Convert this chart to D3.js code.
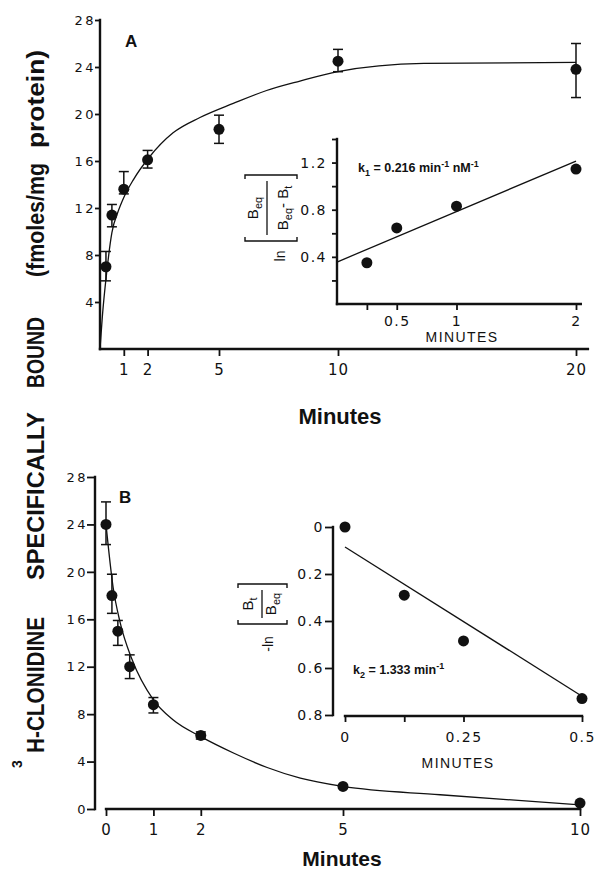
<!DOCTYPE html>
<html><head><meta charset="utf-8">
<script src="https://cdn.jsdelivr.net/npm/d3@7"></script>
<style>
body{margin:0;background:#fff}
svg{display:block}
</style></head><body>
<svg id="chart" width="598" height="874"></svg>
<script>
// A: association time course (fmoles/mg protein)
const timeA  = [0.25, 0.5, 1, 2, 5, 10, 20];
const boundA = [7.0, 11.4, 13.6, 16.1, 18.7, 24.5, 23.8];
const hiA    = [8.3, 12.3, 15.1, 16.9, 19.9, 25.5, 26.0];
const loA    = [5.8, 10.4, 13.2, 15.4, 17.5, 23.6, 21.4];
const fitTA  = [0, 0.1, 0.28, 0.5, 0.76, 1, 1.4, 2.06, 3.07, 4.2, 5.6, 7, 8.4, 10, 13.6, 20];
const fitYA  = [0, 2.8, 6.5, 9.9, 11.7, 12.9, 14.4, 16.3, 18.4, 19.7, 20.9, 22.0, 22.8, 23.6, 24.3, 24.4];
// A inset: ln(Beq/(Beq-Bt)) vs minutes
const timeA2 = [0.25, 0.5, 1, 2];
const lnA2   = [0.35, 0.645, 0.83, 1.145];
const lineTA2 = [0, 2];
const lineYA2 = [0.356, 1.213];

// B: dissociation time course
const timeB  = [0, 0.125, 0.25, 0.5, 1, 2, 5, 10];
const boundB = [24.0, 18.0, 15.0, 12.0, 8.8, 6.2, 1.9, 0.5];
const hiB    = [25.9, 19.8, 15.9, 13.0, 9.4, 6.5, 1.9, 0.5];
const loB    = [22.3, 16.5, 13.8, 11.0, 8.1, 5.9, 1.9, 0.5];
const fitTB  = [0, 0.15, 0.3, 0.55, 1, 1.42, 2, 2.7, 3.4, 4.1, 5, 7.05, 10];
const fitYB  = [24.0, 18.7, 15.7, 12.6, 9.2, 7.5, 6.1, 4.7, 3.5, 2.6, 1.9, 1.2, 0.35];
// B inset: -ln(Bt/Beq) vs minutes
const timeB2 = [0, 0.125, 0.25, 0.5];
const lnB2   = [0.0, 0.29, 0.485, 0.73];
const lineTB2 = [0, 0.5];
const lineYB2 = [0.085, 0.72];

// ticks
const ticksYA  = [4, 8, 12, 16, 20, 24, 28];
const ticksXA  = [1, 2, 5, 10, 20];
const ticksYA2 = [0.2, 0.4, 0.6, 0.8, 1.0, 1.2, 1.4];
const labelsYA2 = [0.4, 0.8, 1.2];
const ticksXA2 = [0.25, 0.5, 1, 2];
const labelsXA2 = [0.5, 1, 2];
const ticksYB  = [0, 4, 8, 12, 16, 20, 24, 28];
const ticksXB  = [0, 1, 2, 5, 10];
const ticksYB2 = [0, 0.2, 0.4, 0.6, 0.8];
const ticksXB2 = [0, 0.125, 0.25, 0.5];
const labelsXB2 = [0, 0.25, 0.5];

const ink = '#111';
const svg = d3.select('#chart');

const xA  = d3.scaleLinear().domain([0, 20]).range([100, 576]);
const yA  = d3.scaleLinear().domain([0, 28]).range([349, 20]);
const xA2 = d3.scaleLinear().domain([0, 2]).range([337, 576]);
const yA2 = d3.scaleLinear().domain([0, 1.4]).range([304, 139]);
const xB  = d3.scaleLinear().domain([0, 10]).range([106, 580]);
const yB  = d3.scaleLinear().domain([0, 28]).range([809, 477]);
const xB2 = d3.scaleLinear().domain([0, 0.5]).range([345, 582]);
const yB2 = d3.scaleLinear().domain([0, 0.8]).range([527, 715]);

function axis(gen, tx, ty, fs, ls) {
  const g = svg.append('g').attr('transform', `translate(${tx},${ty})`).call(gen);
  g.select('.domain').remove();
  g.selectAll('.tick line').attr('stroke', ink).attr('stroke-width', 1.8);
  g.selectAll('.tick text').attr('fill', ink).attr('font-family', 'DejaVu Sans')
    .attr('font-size', fs).attr('letter-spacing', ls);
  return g;
}
function rule(x1, y1, x2, y2, w) {
  svg.append('line').attr('x1', x1).attr('y1', y1).attr('x2', x2).attr('y2', y2)
    .attr('stroke', ink).attr('stroke-width', w || 2.4).attr('stroke-linecap', 'square');
}
const fmtSome = (keep, f) => d => keep.includes(d) ? f(d) : '';
const trim = d => String(d);

// ---- panel A ----
axis(d3.axisLeft(yA).tickValues(ticksYA).tickSize(5).tickPadding(-1).tickSizeOuter(0), xA(0), 0, 13, 2.5);
rule(xA(0), yA(0), xA(0), yA(28));
axis(d3.axisBottom(xA).tickValues(ticksXA).tickSize(7).tickPadding(8).tickSizeOuter(0), 0, yA(0), 15, 1);
rule(xA(0), yA(0), xA(20.5), yA(0));

function errorBars(xs, ys, ts, vs, hi, lo) {
  const g = svg.append('g').attr('stroke', ink).attr('stroke-width', 1.5);
  ts.forEach((t, i) => {
    if (hi[i] === lo[i]) return;
    const cx = xs(t);
    g.append('line').attr('x1', cx).attr('x2', cx).attr('y1', ys(hi[i])).attr('y2', ys(lo[i]));
    [hi[i], lo[i]].forEach(v => g.append('line').attr('x1', cx - 5).attr('x2', cx + 5)
      .attr('y1', ys(v)).attr('y2', ys(v)));
  });
}
function dots(xs, ys, ts, vs, r) {
  svg.append('g').selectAll('circle').data(ts).join('circle')
    .attr('cx', d => xs(d)).attr('cy', (d, i) => ys(vs[i])).attr('r', r).attr('fill', ink);
}
function curve(xs, ys, ts, vs, w, c) {
  svg.append('path').datum(ts.map((t, i) => [t, vs[i]]))
    .attr('d', d3.line().x(d => xs(d[0])).y(d => ys(d[1])).curve(c || d3.curveLinear))
    .attr('fill', 'none').attr('stroke', ink).attr('stroke-width', w);
}

curve(xA, yA, fitTA, fitYA, 1.3, d3.curveMonotoneX);
errorBars(xA, yA, timeA, boundA, hiA, loA);
dots(xA, yA, timeA, boundA, 5.5);

svg.append('text').attr('x', 125).attr('y', 47).attr('font-family', 'Liberation Sans')
  .attr('font-weight', 'bold').attr('font-size', 17).attr('fill', ink).text('A');

// inset A
axis(d3.axisLeft(yA2).tickValues(ticksYA2).tickSize(5).tickPadding(5).tickSizeOuter(0)
  .tickFormat(fmtSome(labelsYA2, d3.format('.1f'))), xA2(0), 0, 14, 1.5);
rule(xA2(0), yA2(0), xA2(0), yA2(1.4));
axis(d3.axisBottom(xA2).tickValues(ticksXA2).tickSize(6).tickPadding(6).tickSizeOuter(0)
  .tickFormat(fmtSome(labelsXA2, trim)), 0, yA2(0), 14, 1.5);
rule(xA2(0), yA2(0), xA2(2.04), yA2(0));
curve(xA2, yA2, lineTA2, lineYA2, 1.3);
dots(xA2, yA2, timeA2, lnA2, 5.5);

function rich(x, y, parts, fs) {
  const t = svg.append('text').attr('x', x).attr('y', y).attr('font-family', 'Liberation Sans')
    .attr('font-weight', 'bold').attr('font-size', fs).attr('fill', ink);
  let shift = 0;
  parts.forEach(([s, off]) => {
    const sp = t.append('tspan').text(s).attr('dy', off - shift);
    if (off) sp.attr('font-size', fs * 0.72);
    shift = off;
  });
  return t;
}
rich(358, 172, [['k', 0], ['1', 4], [' = 0.216 min', 0], ['-1', -5], [' nM', 0], ['-1', -5]], 12.5);
svg.append('text').attr('x', 462).attr('y', 342).attr('text-anchor', 'middle')
  .attr('font-family', 'Liberation Sans').attr('font-size', 14).attr('letter-spacing', 1.4)
  .attr('fill', ink).text('MINUTES');

// inset A y label: ln [Beq / (Beq - Bt)]
function bracketLabel(cx, cy, half, top, bottom, num, den, pre, preAt) {
  const g = svg.append('g').attr('transform', `translate(${cx},${cy}) rotate(-90)`)
    .attr('font-family', 'Liberation Sans').attr('fill', ink);
  const b = g.append('g').attr('stroke', ink).attr('stroke-width', 1.4).attr('fill', 'none');
  b.append('path').attr('d', `M${-half + 4},${top}H${-half}V${bottom}H${-half + 4}`);
  b.append('path').attr('d', `M${half - 4},${top}H${half}V${bottom}H${half - 4}`);
  const txt = (y, parts) => {
    const t = g.append('text').attr('x', 0).attr('y', y).attr('text-anchor', 'middle').attr('font-size', 15);
    let shift = 0;
    parts.forEach(([s, off]) => {
      const sp = t.append('tspan').text(s).attr('dy', off - shift);
      if (off) sp.attr('font-size', 11);
      shift = off;
    });
  };
  txt(num.y, num.parts);
  g.append('line').attr('x1', -half + 6).attr('x2', half - 6).attr('y1', num.y + 9).attr('y2', num.y + 9)
    .attr('stroke', ink).attr('stroke-width', 1.3);
  txt(den.y, den.parts);
  g.append('text').attr('x', preAt).attr('y', den.y - 3).attr('text-anchor', 'middle')
    .attr('font-size', 14).text(pre);
}
bracketLabel(270, 208, 33, -25, 27,
  {y: -12, parts: [['B', 0], ['eq', 4]]},
  {y: 18, parts: [['B', 0], ['eq', 4], ['- B', 0], ['t', 4]]}, 'ln', -48);

svg.append('text').attr('x', 340).attr('y', 424).attr('text-anchor', 'middle')
  .attr('font-family', 'Liberation Sans').attr('font-weight', 'bold').attr('font-size', 22)
  .attr('fill', ink).text('Minutes');

// ---- panel B ----
axis(d3.axisLeft(yB).tickValues(ticksYB).tickSize(8).tickPadding(-1).tickSizeOuter(0), 95, 0, 13, 2.5);
rule(95, yB(0), 95, yB(28));
axis(d3.axisBottom(xB).tickValues(ticksXB).tickSize(7).tickPadding(8).tickSizeOuter(0), 0, yB(0), 15, 1);
rule(xB(0), yB(0), xB(10), yB(0));

curve(xB, yB, fitTB, fitYB, 1.3, d3.curveMonotoneX);
errorBars(xB, yB, timeB, boundB, hiB, loB);
dots(xB, yB, timeB, boundB, 5.5);

svg.append('text').attr('x', 119).attr('y', 503).attr('font-family', 'Liberation Sans')
  .attr('font-weight', 'bold').attr('font-size', 17).attr('fill', ink).text('B');

// inset B
axis(d3.axisLeft(yB2).tickValues(ticksYB2).tickSize(8).tickPadding(1).tickSizeOuter(0)
  .tickFormat(d => d === 0 ? '0' : d3.format('.1f')(d)), 333, 0, 14, 1.5);
rule(333, yB2(0), 333, yB2(0.8));
axis(d3.axisBottom(xB2).tickValues(ticksXB2).tickSize(6).tickPadding(10).tickSizeOuter(0)
  .tickFormat(fmtSome(labelsXB2, trim)), 0, 716, 14, 1.5);
rule(xB2(0), 716, xB2(0.5), 716);
curve(xB2, yB2, lineTB2, lineYB2, 1.3);
dots(xB2, yB2, timeB2, lnB2, 5.5);

rich(353, 674, [['k', 0], ['2', 4], [' = 1.333 min', 0], ['-1', -5]], 12.5);
svg.append('text').attr('x', 458).attr('y', 768).attr('text-anchor', 'middle')
  .attr('font-family', 'Liberation Sans').attr('font-size', 14).attr('letter-spacing', 1.4)
  .attr('fill', ink).text('MINUTES');

bracketLabel(262, 604, 20, -24, 25,
  {y: -9, parts: [['B', 0], ['t', 4]]},
  {y: 14, parts: [['B', 0], ['eq', 4]]}, '-ln', -40);

svg.append('text').attr('x', 342).attr('y', 866).attr('text-anchor', 'middle')
  .attr('font-family', 'Liberation Sans').attr('font-weight', 'bold').attr('font-size', 21)
  .attr('fill', ink).text('Minutes');

// ---- shared y label ----
const yLabel = [['H-CLONIDINE', 753, 136], ['SPECIFICALLY', 580, 168], ['BOUND', 388, 71],
                ['(fmoles/mg', 277, 114], ['protein)', 148, 98]];
yLabel.forEach(([s, y0, len]) => {
  svg.append('text').attr('transform', `translate(44,${y0}) rotate(-90)`)
    .attr('font-family', 'Liberation Sans').attr('font-weight', 'bold').attr('font-size', 23)
    .attr('textLength', len).attr('lengthAdjust', 'spacingAndGlyphs').attr('fill', ink).text(s);
});
svg.append('text').attr('transform', 'translate(22,768) rotate(-90)')
  .attr('font-family', 'Liberation Sans').attr('font-weight', 'bold').attr('font-size', 14)
  .attr('fill', ink).text('3');
</script>
</body></html>
